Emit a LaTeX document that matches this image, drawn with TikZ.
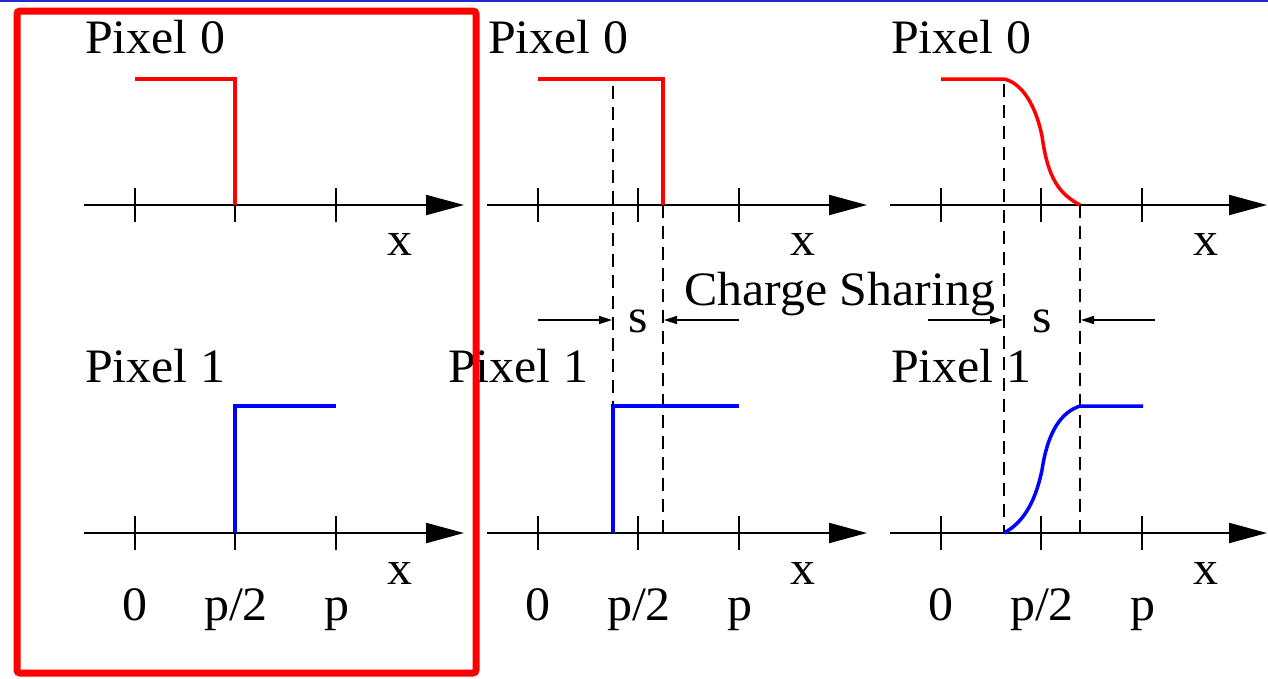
\documentclass[tikz,border=0pt]{standalone}
\usepackage{fontspec}
\newfontfamily\tnr{Liberation Serif}[FakeStretch=1.04]
\usetikzlibrary{arrows.meta}
\definecolor{topblue}{RGB}{40,40,210}
\definecolor{pred}{RGB}{255,0,0}
\definecolor{pblue}{RGB}{0,0,255}
\begin{document}
\begin{tikzpicture}[x=1pt,y=-1pt,
  lbl/.style={inner sep=0pt, font=\tnr\fontsize{48}{50}\selectfont},
  axisline/.style={line width=2pt, -{Triangle[length=38pt,width=20pt]}},
  tickmark/.style={line width=2pt},
  sigred/.style={pred, line width=3.5pt},
  sigblue/.style={pblue, line width=3.5pt},
  guide/.style={line width=1.5pt, dash pattern=on 13pt off 8pt},
  sarrow/.style={line width=1.5pt, -{Triangle[length=13pt,width=8pt]}},
  frame/.style={pred, line width=7pt, rounded corners=3pt}
]
\useasboundingbox (0,0) rectangle (1268,678);
\coordinate (tl) at (0,1);
\coordinate (tr) at (1268,1);
\draw[topblue, line width=2.5pt] (tl) -- (tr);

% axes, ticks and labels for the three panels
\foreach \i/\dx in {a/0, b/403, c/806} {
  \coordinate (top0\i) at (84+\dx,205);
  \coordinate (top1\i) at ({min(464+\dx,1267)},205);
  \coordinate (bot0\i) at (84+\dx,533);
  \coordinate (bot1\i) at ({min(464+\dx,1267)},533);
  \draw[axisline] (top0\i) -- (top1\i);
  \draw[axisline] (bot0\i) -- (bot1\i);
  \foreach \t in {135,235,336} {
    \draw[tickmark] (\t+\dx,188) -- (\t+\dx,222);
    \draw[tickmark] (\t+\dx,516) -- (\t+\dx,550);
  }
  \node[lbl, anchor=base west] (pix0\i) at (85+\dx,53) {Pixel 0};
  \node[lbl, anchor=base] (xt\i) at (400+\dx,255) {x};
  \node[lbl, anchor=base] (xb\i) at (400+\dx,584) {x};
  \node[lbl, anchor=base] (zero\i) at (135+\dx,620) {0};
  \node[lbl, anchor=base] (half\i) at (236+\dx,620) {p/2};
  \node[lbl, anchor=base] (full\i) at (337+\dx,620) {p};
}
\node[lbl, anchor=base west] (pix1a) at (85,382) {Pixel 1};
\node[lbl, anchor=base west] (pix1b) at (448,382) {Pixel 1};
\node[lbl, anchor=base west] (pix1c) at (891,382) {Pixel 1};

% panel 1: sharp edge at p/2
\coordinate (r1a) at (135,79);
\coordinate (r2a) at (235,79);
\coordinate (r3a) at (235,205);
\draw[sigred] (r1a) -- (r2a) -- (r3a);
\coordinate (b1a) at (235,533);
\coordinate (b2a) at (235,406);
\coordinate (b3a) at (336,406);
\draw[sigblue] (b1a) -- (b2a) -- (b3a);

% panel 2: shifted sharp edges
\coordinate (r1b) at (538,79);
\coordinate (r2b) at (663,79);
\coordinate (r3b) at (663,205);
\coordinate (b1b) at (613,533);
\coordinate (b2b) at (613,406);
\coordinate (b3b) at (739,406);
\coordinate (d1top) at (613,86);
\coordinate (d2bot) at (663,533);
\draw[guide] (d1top) -- (b1b);
\draw[guide] (r3b) -- (d2bot);
\draw[sigred] (r1b) -- (r2b) -- (r3b);
\draw[sigblue] (b1b) -- (b2b) -- (b3b);
\coordinate (sl0b) at (538,320);
\coordinate (sl1b) at (612,320);
\coordinate (sr0b) at (739,320);
\coordinate (sr1b) at (664,320);
\draw[sarrow] (sl0b) -- (sl1b);
\draw[sarrow] (sr0b) -- (sr1b);
\node[lbl, anchor=base] (sb) at (638,332) {s};

\node[lbl, anchor=base west] (cs) at (684,305) {Charge Sharing};

% panel 3: smooth charge sharing
\coordinate (r1c) at (941,79);
\coordinate (r2c) at (1004,79);
\coordinate (rmc) at (1042,136);
\coordinate (r3c) at (1080,205);
\coordinate (b1c) at (1004,533);
\coordinate (bmc) at (1042,470);
\coordinate (b2c) at (1080,406);
\coordinate (b3c) at (1143,406);
\coordinate (d3top) at (1004,84);
\coordinate (d4bot) at (1080,533);
\draw[guide] (d3top) -- (b1c);
\draw[guide] (r3c) -- (d4bot);
\draw[sigred] (r1c) -- (r2c) .. controls (1018,82) and (1034,98) .. (rmc)
  .. controls (1048,180) and (1060,194) .. (r3c);
\draw[sigblue] (b1c) .. controls (1020,524) and (1034,508) .. (bmc)
  .. controls (1048,430) and (1062,412) .. (b2c) -- (b3c);
\coordinate (sl0c) at (928,320);
\coordinate (sl1c) at (1003,320);
\coordinate (sr0c) at (1155,320);
\coordinate (sr1c) at (1081,320);
\draw[sarrow] (sl0c) -- (sl1c);
\draw[sarrow] (sr0c) -- (sr1c);
\node[lbl, anchor=base] (sc) at (1042,332) {s};

% red frame round the first panel
\coordinate (f0) at (17,11);
\coordinate (f1) at (476,673);
\draw[frame] (f0) rectangle (f1);
\end{tikzpicture}
\end{document}
